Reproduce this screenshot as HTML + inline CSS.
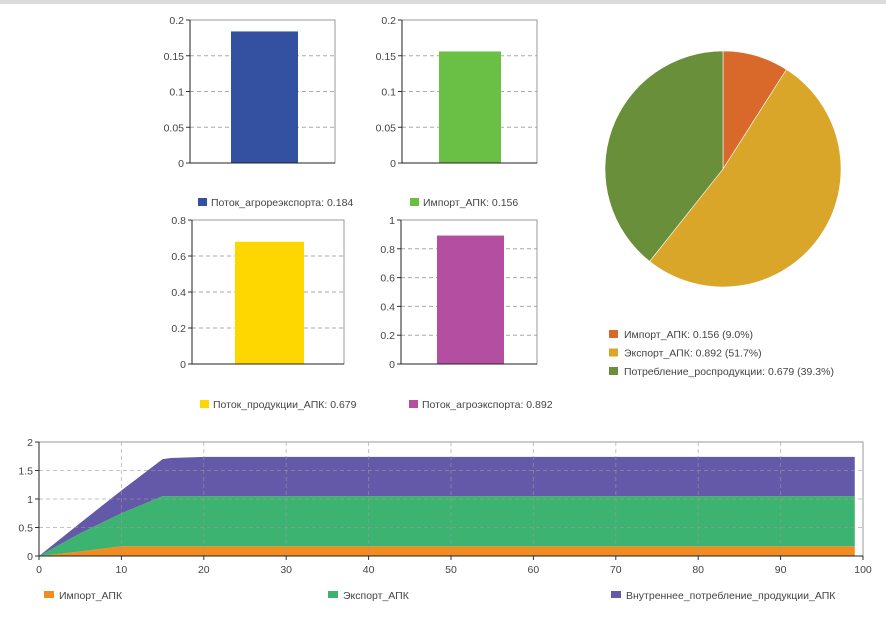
<!DOCTYPE html>
<html><head><meta charset="utf-8"><style>
body{margin:0;width:886px;height:615px;background:#fff;overflow:hidden;font-family:"Liberation Sans","DejaVu Sans",sans-serif}
svg text{font-family:"Liberation Sans","DejaVu Sans",sans-serif;font-size:10.5px;fill:#444}
</style></head><body>
<svg id="s" width="886" height="615">
<rect x="0" y="0" width="886" height="4" fill="#dcdcdc"/>
</svg>
<script>
const barNames=["Поток_агрореэкспорта","Импорт_АПК","Поток_продукции_АПК","Поток_агроэкспорта"];
const barValues=[0.184,0.156,0.679,0.892];
const barMax=[0.2,0.2,0.8,1];
const barTicks=[[0,0.05,0.1,0.15,0.2],[0,0.05,0.1,0.15,0.2],[0,0.2,0.4,0.6,0.8],[0,0.2,0.4,0.6,0.8,1]];
const barTickLabels=[["0","0.05","0.1","0.15","0.2"],["0","0.05","0.1","0.15","0.2"],["0","0.2","0.4","0.6","0.8"],["0","0.2","0.4","0.6","0.8","1"]];
const barColors=["#3450a0","#6abf45","#ffd700","#b44ea0"];
const pieNames=["Импорт_АПК","Экспорт_АПК","Потребление_роспродукции"];
const pieValues=[0.156,0.892,0.679];
const pieColors=["#d8692a","#daa62a","#6a8f3a"];
const areaT=[0,5,10,15,16,20,99];
const importVals=[0,0.08,0.17,0.17,0.17,0.17,0.17];
const exportVals=[0,0.32,0.58,0.88,0.88,0.88,0.88];
const consVals=[0,0.18,0.4,0.65,0.67,0.69,0.69];
const areaNames=["Импорт_АПК","Экспорт_АПК","Внутреннее_потребление_продукции_АПК"];
const areaColors=["#f28c1e","#3cb371","#6459a8"];
const xTicks=[0,10,20,30,40,50,60,70,80,90,100];
const yTicks=[0,0.5,1,1.5,2];
const yTickLabels=["0","0.5","1","1.5","2"];

const S=document.getElementById('s');const NS="http://www.w3.org/2000/svg";
function mk(t,a,p){const e=document.createElementNS(NS,t);for(const k in a)e.setAttribute(k,a[k]);(p||S).appendChild(e);return e;}
function txt(x,y,s,anchor,name){const e=mk('text',{x:x,y:y,'text-anchor':anchor||'start'});e.textContent=s;

return e;}

const boxes=[{l:190,r:335,t:20,b:163,bl:231,br:298,ly:205},{l:402,r:537,t:20,b:163,bl:439,br:501,ly:205},
{l:192,r:344,t:220,b:364,bl:235,br:304,ly:407},{l:401,r:537,t:220,b:364,bl:437,br:504,ly:407}];
barValues.forEach((v,i)=>{const B=boxes[i];const y=val=>B.b-(val/barMax[i])*(B.b-B.t);
 const g=mk('g',{});
 
 
 barTicks[i].forEach((tv,j)=>{const yy=y(tv);
  if(tv>0&&tv<barMax[i]){const l=mk('line',{x1:B.l,x2:B.r,y1:yy,y2:yy,stroke:'#aaa','stroke-dasharray':'4,3'},g);
   }
  mk('line',{x1:B.l-4,x2:B.l,y1:yy,y2:yy,stroke:'#333'},g);
  const t=txt(B.l-6,yy+4,barTickLabels[i][j],'end','y-tick-label');g.appendChild(t);});
 const r=mk('rect',{x:B.bl,y:y(v),width:B.br-B.bl,height:B.b-y(v),fill:barColors[i]},g);
 
 
 mk('path',{d:`M${B.l},${B.t}H${B.r}V${B.b}H${B.l}Z`,fill:'none',stroke:'#999'},g);
 mk('path',{d:`M${B.l},${B.t}V${B.b}H${B.r}`,fill:'none',stroke:'#222'},g);
 const lx=B.l+8;const sq=mk('rect',{x:lx,y:B.ly-7,width:9,height:8,fill:barColors[i]},g);
 
 g.appendChild(txt(lx+13,B.ly+1,barNames[i]+': '+v,'start','legend-entry'));
});

// pie
const cx=723,cy=169,R=118;const tot=pieValues.reduce((a,b)=>a+b,0);let a0=-Math.PI/2;
const pg=mk('g',{});
pieValues.forEach((v,i)=>{const a1=a0+v/tot*2*Math.PI;const lg=(a1-a0)>Math.PI?1:0;
 const p=mk('path',{d:`M${cx},${cy}L${cx+R*Math.cos(a0)},${cy+R*Math.sin(a0)}A${R},${R} 0 ${lg} 1 ${cx+R*Math.cos(a1)},${cy+R*Math.sin(a1)}Z`,fill:pieColors[i],stroke:'#fff','stroke-width':0.6},pg);
 
 const ly=337+i*18.5;const sq=mk('rect',{x:609,y:ly-7,width:9,height:8,fill:pieColors[i]},pg);
 
 pg.appendChild(txt(624,ly+1,pieNames[i]+': '+v+' ('+(v/tot*100).toFixed(1)+'%)','start','pie-legend-entry'));
 a0=a1;});

// area chart
const L=39,Rr=863,T=442,Bt=556;const X=t=>L+t/100*(Rr-L);const Y=v=>Bt-v/2*(Bt-T);
const ag=mk('g',{});
const series=[importVals,exportVals,consVals];let base=areaT.map(()=>0);
series.forEach((s,i)=>{const top=s.map((v,k)=>v+base[k]);
 let d='M'+areaT.map((t,k)=>X(t)+','+Y(top[k])).join('L');
 for(let k=areaT.length-1;k>=0;k--)d+='L'+X(areaT[k])+','+Y(base[k]);
 const p=mk('path',{d:d+'Z',fill:areaColors[i]},ag);
 
 base=top;});
xTicks.forEach(t=>{const x=X(t);if(t>0&&t<100){const l=mk('line',{x1:x,x2:x,y1:T,y2:Bt,stroke:'#999','stroke-dasharray':'4,3','stroke-opacity':0.6},ag);
 }
 mk('line',{x1:x,x2:x,y1:Bt,y2:Bt+4,stroke:'#333'},ag);ag.appendChild(txt(x,Bt+17,String(t),'middle','x-tick-label'));});
yTicks.forEach((v,j)=>{const y=Y(v);if(v>0&&v<2){const l=mk('line',{x1:L,x2:Rr,y1:y,y2:y,stroke:'#999','stroke-dasharray':'4,3','stroke-opacity':0.6},ag);
 }
 mk('line',{x1:L-4,x2:L,y1:y,y2:y,stroke:'#333'},ag);ag.appendChild(txt(L-6,y+4,yTickLabels[j],'end','y-tick-label'));});
mk('path',{d:`M${L},${T}H${Rr}V${Bt}`,fill:'none',stroke:'#999'},ag);
mk('path',{d:`M${L},${T}V${Bt}H${Rr}`,fill:'none',stroke:'#222'},ag);
const lxs=[44,328,611];
areaNames.forEach((n,i)=>{const sq=mk('rect',{x:lxs[i],y:591,width:10,height:7,fill:areaColors[i]},ag);
 
 ag.appendChild(txt(lxs[i]+15,599,n,'start','area-legend-entry'));});
</script>
</body></html>
